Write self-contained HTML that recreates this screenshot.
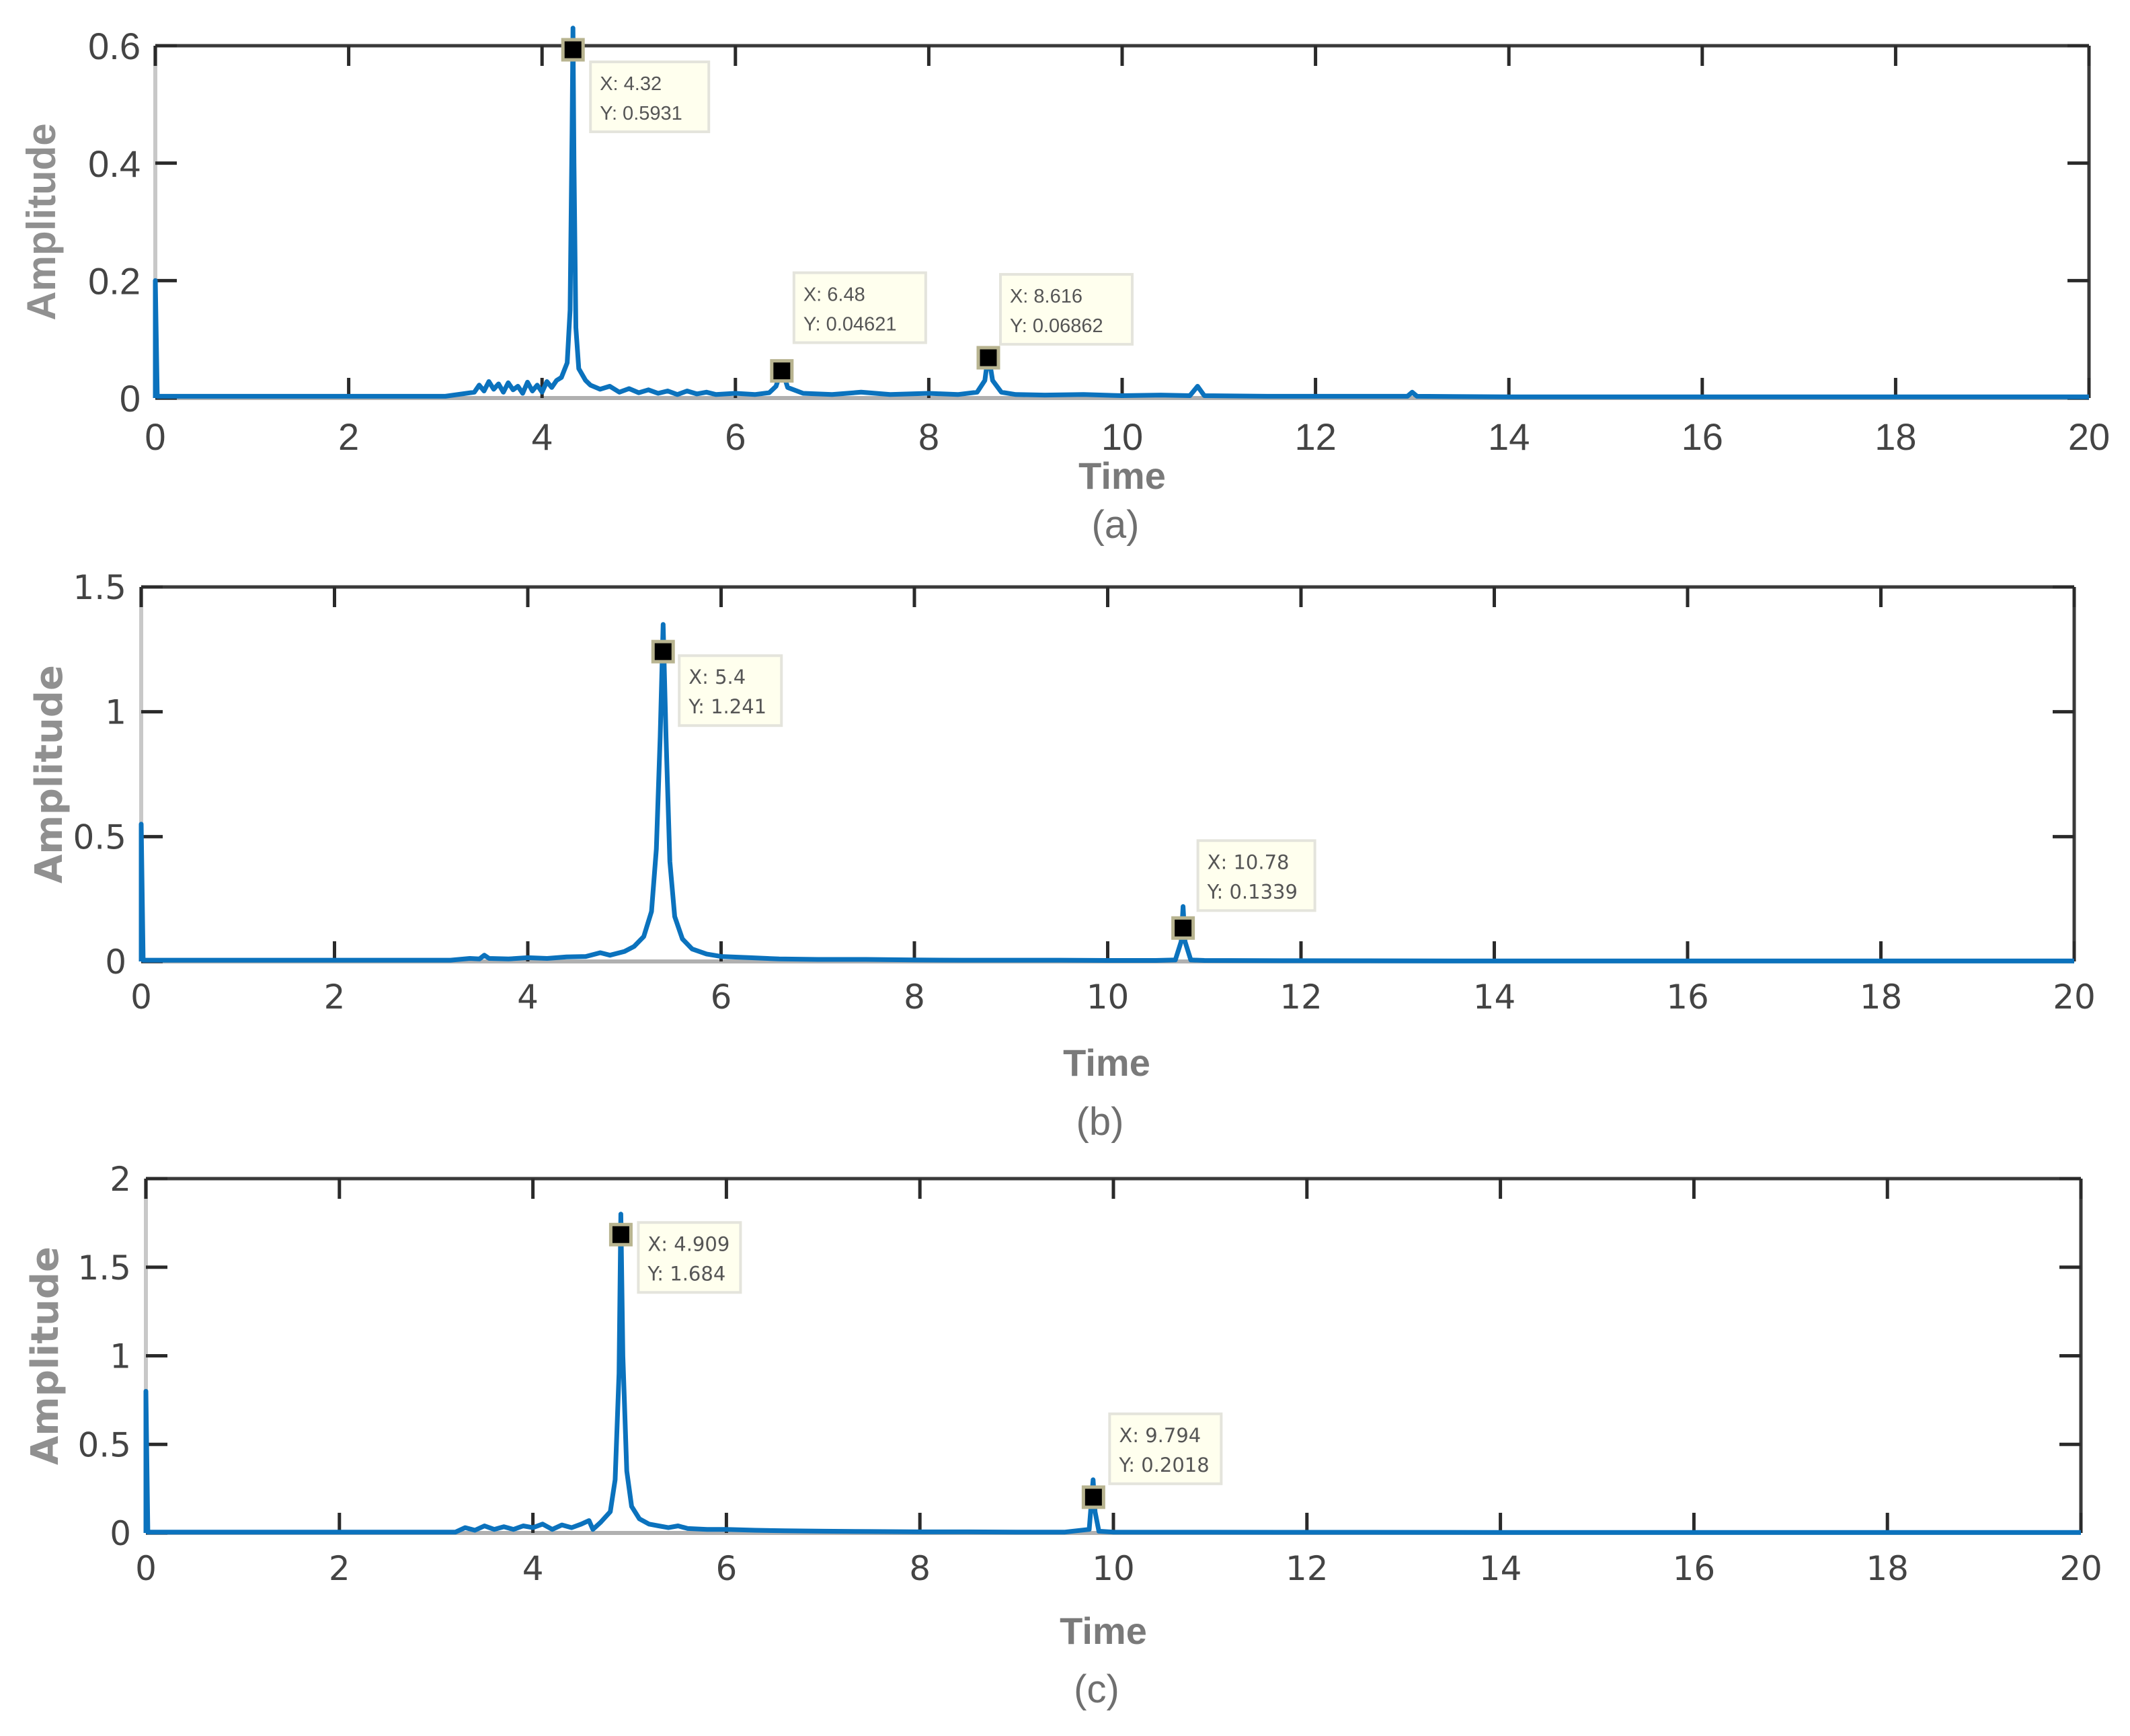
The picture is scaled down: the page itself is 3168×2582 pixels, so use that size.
<!DOCTYPE html>
<html><head><meta charset="utf-8">
<style>
html,body{margin:0;padding:0;background:#fff;}
svg{display:block;}
</style></head>
<body>
<svg id="fig" width="3168" height="2582" viewBox="0 0 3168 2582" xmlns="http://www.w3.org/2000/svg"></svg>
<script>
// ---- data (a) ----
const aX = [0,0,0.02,3.0,3.3,3.35,3.4,3.45,3.5,3.55,3.6,3.65,3.7,3.75,3.8,3.85,3.9,3.95,4.0,4.05,4.1,4.15,4.2,4.26,4.29,4.31,4.32,4.33,4.35,4.38,4.45,4.5,4.6,4.7,4.8,4.9,5.0,5.1,5.2,5.3,5.4,5.5,5.6,5.7,5.8,6.0,6.2,6.35,6.42,6.48,6.54,6.7,7.0,7.3,7.6,8.0,8.3,8.5,8.58,8.616,8.66,8.75,8.9,9.2,9.6,10.0,10.4,10.7,10.78,10.85,11.5,12.5,12.95,13.0,13.05,14,20];
const aY = [0,0.2,0.003,0.003,0.01,0.022,0.012,0.028,0.015,0.024,0.01,0.026,0.014,0.02,0.008,0.027,0.012,0.022,0.01,0.028,0.018,0.03,0.035,0.06,0.15,0.45,0.63,0.4,0.12,0.05,0.03,0.022,0.015,0.02,0.01,0.016,0.009,0.014,0.008,0.012,0.006,0.012,0.007,0.01,0.006,0.008,0.006,0.009,0.02,0.05,0.018,0.008,0.006,0.01,0.006,0.008,0.006,0.01,0.03,0.075,0.03,0.01,0.006,0.005,0.006,0.004,0.005,0.004,0.02,0.004,0.003,0.003,0.003,0.01,0.003,0.002,0.002];
const aTipX = [4.32,6.48,8.616];
const aTipY = [0.5931,0.04621,0.06862];
const aTipText = [["X: 4.32","Y: 0.5931"],["X: 6.48","Y: 0.04621"],["X: 8.616","Y: 0.06862"]];
const aYTicks = [0,0.2,0.4,0.6];
const aYLabels = ["0","0.2","0.4","0.6"];
// ---- data (b) ----
const bX = [0,0,0.02,3.2,3.4,3.5,3.55,3.6,3.8,4.0,4.2,4.4,4.6,4.75,4.85,5.0,5.1,5.2,5.28,5.33,5.37,5.4,5.43,5.47,5.52,5.6,5.7,5.85,6.0,6.3,6.6,7.0,7.5,8.0,8.5,9.0,9.5,10.0,10.5,10.7,10.76,10.78,10.8,10.86,11.0,12,14,20];
const bY = [0,0.55,0.005,0.005,0.012,0.01,0.025,0.012,0.01,0.015,0.012,0.018,0.02,0.035,0.025,0.04,0.06,0.1,0.2,0.45,0.9,1.35,0.9,0.4,0.18,0.09,0.05,0.03,0.02,0.015,0.01,0.008,0.008,0.006,0.005,0.005,0.005,0.004,0.004,0.006,0.08,0.22,0.08,0.006,0.004,0.003,0.002,0.002];
const bTipX = [5.4,10.78];
const bTipY = [1.241,0.1339];
const bTipText = [["X: 5.4","Y: 1.241"],["X: 10.78","Y: 0.1339"]];
const bYTicks = [0,0.5,1,1.5];
const bYLabels = ["0","0.5","1","1.5"];
// ---- data (c) ----
const cX = [0,0,0.02,3.2,3.3,3.4,3.5,3.6,3.7,3.8,3.9,4.0,4.1,4.2,4.3,4.4,4.5,4.58,4.62,4.7,4.8,4.85,4.89,4.909,4.93,4.97,5.02,5.1,5.2,5.3,5.4,5.5,5.6,5.8,6.0,6.3,6.6,7,7.5,8,8.5,9,9.5,9.75,9.79,9.81,9.85,10,11,14,20];
const cY = [0,0.8,0.005,0.005,0.03,0.015,0.04,0.02,0.035,0.02,0.04,0.03,0.05,0.02,0.045,0.03,0.05,0.07,0.02,0.06,0.12,0.3,0.9,1.8,1.0,0.35,0.15,0.08,0.05,0.04,0.03,0.04,0.025,0.02,0.02,0.015,0.012,0.01,0.008,0.006,0.006,0.005,0.005,0.02,0.3,0.12,0.01,0.005,0.004,0.003,0.003];
const cTipX = [4.909,9.794];
const cTipY = [1.684,0.2018];
const cTipText = [["X: 4.909","Y: 1.684"],["X: 9.794","Y: 0.2018"]];
const cYTicks = [0,0.5,1,1.5,2];
const cYLabels = ["0","0.5","1","1.5","2"];
const xTicks = [0,2,4,6,8,10,12,14,16,18,20];

const NS = "http://www.w3.org/2000/svg";
const svg = document.getElementById('fig');
function mk(tag, attrs, parent, text){
  const e = document.createElementNS(NS, tag);
  for (const k in attrs) e.setAttribute(k, attrs[k]);
  if (text !== undefined) e.textContent = text;
  (parent||svg).appendChild(e);
  return e;
}

function panel(cfg){
  const g = mk('g', {});
  
  
  const {L,R,T,B,ymax} = cfg;
  const sx = v => L + (v/20)*(R-L);
  const sy = v => B - (v/ymax)*(B-T);
  const lt = mk('line',{x1:L,y1:T,x2:R,y2:T,stroke:'#3a3a3a','stroke-width':5},g);
   
  const lr = mk('line',{x1:R,y1:T,x2:R,y2:B,stroke:'#3a3a3a','stroke-width':5},g);
   
  const ll = mk('line',{x1:L,y1:T,x2:L,y2:B,stroke:'#c8c8c8','stroke-width':6},g);
   
  const lb = mk('line',{x1:L,y1:B,x2:R,y2:B,stroke:'#b0b0b0','stroke-width':6},g);
   
  xTicks.forEach(t=>{
    const x = sx(t);
    mk('line',{x1:x,y1:B,x2:x,y2:B-30,stroke:'#2a2a2a','stroke-width':5},g);
    mk('line',{x1:x,y1:T,x2:x,y2:T+30,stroke:'#2a2a2a','stroke-width':5},g);
    const tx = mk('text',{x:x,y:B+cfg.xlabOff,'text-anchor':'middle','font-size':cfg.tickFs,'font-family':cfg.font,fill:'#444'},g,String(t));
     
  });
  cfg.yTicks.forEach((t,i)=>{
    const y = sy(t);
    mk('line',{x1:L,y1:y,x2:L+32,y2:y,stroke:'#2a2a2a','stroke-width':5},g);
    mk('line',{x1:R,y1:y,x2:R-32,y2:y,stroke:'#2a2a2a','stroke-width':5},g);
    const ty = mk('text',{x:L-22,y:y+cfg.tickFs*0.36,'text-anchor':'end','font-size':cfg.tickFs,'font-family':cfg.font,fill:'#444'},g,cfg.yLabels[i]);
     
  });
  let d = '';
  cfg.xs.forEach((v,i)=>{ d += (i?'L':'M') + sx(v).toFixed(1) + ' ' + sy(cfg.ys[i]).toFixed(1) + ' '; });
  const p = mk('path',{d:d,fill:'none',stroke:'#0b72bd','stroke-width':7,'stroke-linejoin':'round'},g);
   
  cfg.tipX.forEach((v,i)=>{
    const x = sx(v), y = sy(cfg.tipY[i]);
    const m = mk('rect',{x:x-15,y:y-15,width:30,height:30,fill:'#000',stroke:'#b8b490','stroke-width':5},g);
     
    const bx = x + cfg.tipOff[i][0], by = y + cfg.tipOff[i][1];
    const w = cfg.tipW[i];
    const bg = mk('g',{},g);
     
    mk('rect',{x:bx,y:by,width:w,height:104,fill:'#ffffee',stroke:'#e4e4dc','stroke-width':4},bg);
    mk('text',{x:bx+14,y:by+42,'font-size':29,'font-family':cfg.font,fill:'#555'},bg,cfg.tipText[i][0]);
    mk('text',{x:bx+14,y:by+86,'font-size':29,'font-family':cfg.font,fill:'#555'},bg,cfg.tipText[i][1]);
  });
  const xl = mk('text',{x:cfg.timeX,y:cfg.timeY,'text-anchor':'middle','font-size':56,'font-weight':'bold','font-family':'"Liberation Sans", sans-serif',fill:'#7a7a7a'},g,'Time');
   
  const yl = mk('text',{x:0,y:0,'text-anchor':'middle','font-size':cfg.ampFs,'font-weight':'bold','font-family':cfg.font,fill:'#909090',transform:`translate(${cfg.ampX},${(T+B)/2}) rotate(-90)`},g,'Amplitude');
   
  const cap = mk('text',{x:cfg.timeX-10,y:cfg.capY,'text-anchor':'middle','font-size':58,'font-family':'"Liberation Sans", sans-serif',fill:'#6f6f6f'},g,'('+cfg.id+')');
   
}

panel({id:'a',L:231,R:3107,T:68,B:592,ymax:0.6,xs:aX,ys:aY,tipX:aTipX,tipY:aTipY,tipText:aTipText,
  yTicks:aYTicks,yLabels:aYLabels,tickFs:56,xlabOff:77,font:'"Liberation Sans", sans-serif',ampFs:60,
  tipOff:[[26,18],[18,-146],[18,-124]],tipW:[176,196,196],timeX:1669,timeY:727,capY:800,ampX:82});
panel({id:'b',L:210,R:3085,T:873,B:1430,ymax:1.5,xs:bX,ys:bY,tipX:bTipX,tipY:bTipY,tipText:bTipText,
  yTicks:bYTicks,yLabels:bYLabels,tickFs:50,xlabOff:70,font:'"DejaVu Sans", sans-serif',ampFs:56,
  tipOff:[[24,6],[22,-130]],tipW:[152,174],timeX:1646,timeY:1600,capY:1688,ampX:92});
panel({id:'c',L:217,R:3095,T:1753,B:2280,ymax:2,xs:cX,ys:cY,tipX:cTipX,tipY:cTipY,tipText:cTipText,
  yTicks:cYTicks,yLabels:cYLabels,tickFs:50,xlabOff:70,font:'"DejaVu Sans", sans-serif',ampFs:56,
  tipOff:[[26,-18],[24,-124]],tipW:[152,166],timeX:1641,timeY:2445,capY:2532,ampX:86});
</script>
</body></html>
